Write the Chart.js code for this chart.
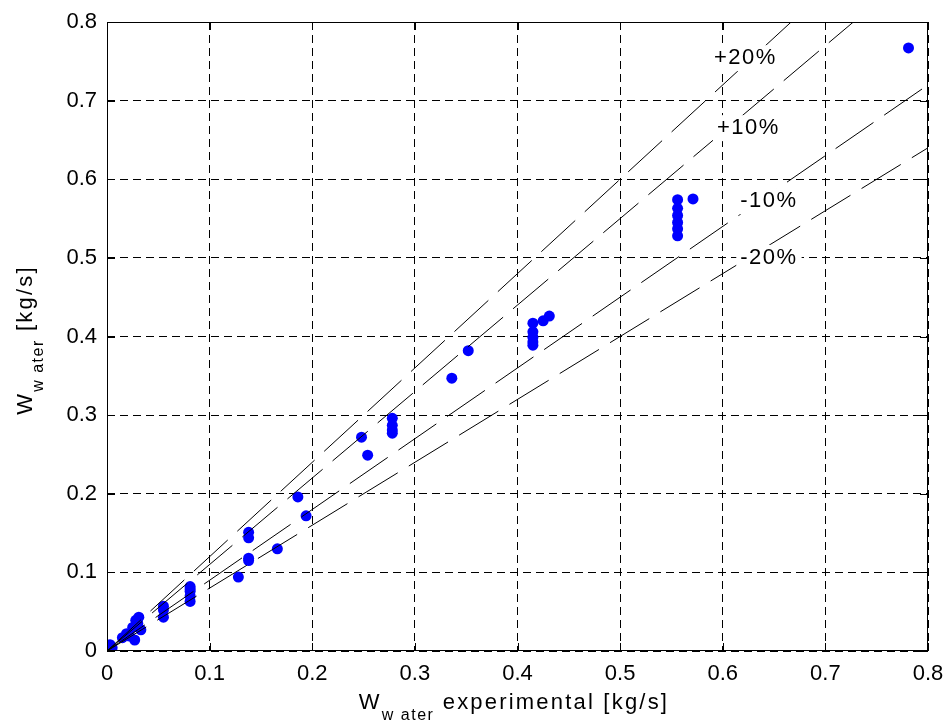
<!DOCTYPE html>
<html>
<head>
<meta charset="utf-8">
<script src="https://cdn.jsdelivr.net/npm/chart.js@4.4.0/dist/chart.umd.min.js"></script>
<style>
  html, body { margin: 0; padding: 0; background: #fff; }
  #wrap { width: 947px; height: 722px; }
</style>
</head>
<body>
<div id="wrap"><canvas id="myChart" width="947" height="722"></canvas></div>
<script>
// measured vs. calculated water flow [kg/s]
const wExp = [
  0.003, 0.005, 0.015, 0.019, 0.022, 0.025, 0.027, 0.028, 0.031, 0.033, 0.030,
  0.055, 0.055, 0.055,
  0.081, 0.081, 0.081, 0.081, 0.081,
  0.128, 0.138, 0.138, 0.138, 0.138, 0.166, 0.186, 0.194,
  0.248, 0.254, 0.278, 0.278, 0.278, 0.278,
  0.336, 0.352,
  0.415, 0.415, 0.415, 0.415, 0.415, 0.425, 0.431,
  0.556, 0.556, 0.556, 0.556, 0.556, 0.556, 0.571,
  0.781
];
const wCalc = [
  0.008, 0.004, 0.017, 0.022, 0.019, 0.030, 0.014, 0.039, 0.043, 0.027, 0.035,
  0.057, 0.052, 0.043,
  0.082, 0.079, 0.076, 0.070, 0.063,
  0.094, 0.151, 0.144, 0.118, 0.115, 0.130, 0.196, 0.172,
  0.272, 0.249, 0.296, 0.287, 0.281, 0.277,
  0.347, 0.382,
  0.417, 0.406, 0.399, 0.393, 0.389, 0.420, 0.426,
  0.574, 0.563, 0.554, 0.545, 0.537, 0.528, 0.575,
  0.767
];

// error bands around the diagonal
const bandFactors = [1.2, 1.1, 0.9, 0.8];
const bandLabels = ['+20%', '+10%', '-10%', '-20%'];
const axisMax = 0.8;

const FONT = '"Liberation Sans", Arial, Helvetica, sans-serif';

const points = wExp.map((x, i) => ({ x: x, y: wCalc[i] }));

const bandSets = bandFactors.map((f, i) => {
  const xEnd = Math.min(axisMax, axisMax / f);
  return {
    label: bandLabels[i],
    data: [{ x: 0, y: 0 }, { x: xEnd, y: xEnd * f }],
    showLine: true,
    borderColor: '#000',
    borderWidth: 1,
    borderDash: [46, 13],
    pointRadius: 0,
    order: 1
  };
});

// where the band labels sit (data coords)
const bandLabelAt = [[0.622, 0.754], [0.625, 0.665], [0.645, 0.572], [0.645, 0.500]];

const framePlugin = {
  id: 'frame',
  afterDatasetsDraw(chart) {
    const c = chart.ctx;
    const a = chart.chartArea;
    const xs = chart.scales.x, ys = chart.scales.y;
    c.save();

    // band labels on white boxes
    c.font = '22px ' + FONT;
    c.letterSpacing = '1.5px';
    c.textAlign = 'center';
    c.textBaseline = 'middle';
    bandLabels.forEach((t, i) => {
      const px = xs.getPixelForValue(bandLabelAt[i][0]);
      const py = ys.getPixelForValue(bandLabelAt[i][1]);
      const w = c.measureText(t).width;
      c.fillStyle = '#fff';
      c.fillRect(px - w / 2 - 4, py - 13, w + 8, 26);
      c.fillStyle = '#000';
      c.fillText(t, px, py);
    });

    // box + inward ticks
    c.strokeStyle = '#000';
    c.lineWidth = 1;
    c.setLineDash([]);
    c.strokeRect(a.left + 0.5, a.top + 0.5, a.right - a.left - 1, a.bottom - a.top - 1);
    c.beginPath();
    xs.ticks.forEach(t => {
      const p = Math.round(xs.getPixelForValue(t.value)) + 0.5;
      c.moveTo(p, a.bottom); c.lineTo(p, a.bottom - 8);
      c.moveTo(p, a.top); c.lineTo(p, a.top + 8);
    });
    ys.ticks.forEach(t => {
      const p = Math.round(ys.getPixelForValue(t.value)) + 0.5;
      c.moveTo(a.left, p); c.lineTo(a.left + 8, p);
      c.moveTo(a.right, p); c.lineTo(a.right - 8, p);
    });
    c.stroke();

    // axis titles with subscript
    const drawTitle = (main, sub, rest, cx, base) => {
      c.letterSpacing = '2.2px';
      c.font = '22px ' + FONT;
      const w1 = c.measureText(main).width;
      const w3 = c.measureText(rest).width;
      c.letterSpacing = '1.5px';
      c.font = '16px ' + FONT;
      const w2 = c.measureText(sub).width;
      let x = cx - (w1 + w2 + w3) / 2;
      c.textAlign = 'left';
      c.textBaseline = 'alphabetic';
      c.fillStyle = '#000';
      c.letterSpacing = '2.2px';
      c.font = '22px ' + FONT;
      c.fillText(main, x, base);
      x += w1;
      c.letterSpacing = '1.5px';
      c.font = '16px ' + FONT;
      c.fillText(sub, x, base + 11);
      x += w2;
      c.letterSpacing = '2.2px';
      c.font = '22px ' + FONT;
      c.fillText(rest, x, base);
    };
    drawTitle('W', 'w ater', ' experimental [kg/s]', 514, 709);
    c.translate(32, 340);
    c.rotate(-Math.PI / 2);
    drawTitle('W', 'w ater', ' [kg/s]', 0, 0);
    c.letterSpacing = '0px';
    c.restore();
  }
};

const ctx = document.getElementById('myChart');

new Chart(ctx, {
  type: 'scatter',
  data: {
    datasets: [{
      label: 'W water',
      data: points,
      backgroundColor: '#0000ff',
      borderWidth: 0,
      pointRadius: 5.5,
      order: 2
    }].concat(bandSets)
  },
  options: {
    responsive: false,
    animation: false,
    layout: { padding: { left: 0, top: 22, right: 19, bottom: 0 } },
    plugins: {
      legend: { display: false },
      tooltip: { enabled: false }
    },
    scales: {
      x: {
        type: 'linear',
        min: 0, max: axisMax,
        afterFit: s => { s.height = 71; s.paddingLeft = 0; s.paddingRight = 0; },
        ticks: {
          stepSize: 0.1,
          padding: 10,
          color: '#000',
          font: { family: FONT, size: 22 },
          callback: v => v === 0 ? '0' : v.toFixed(1)
        },
        grid: { color: '#000', lineWidth: 1, drawTicks: false },
        border: { display: false, dash: [8, 5] }
      },
      y: {
        type: 'linear',
        min: 0, max: axisMax,
        afterFit: s => { s.width = 107; s.paddingTop = 0; s.paddingBottom = 0; },
        ticks: {
          stepSize: 0.1,
          padding: 10,
          color: '#000',
          font: { family: FONT, size: 22 },
          callback: v => v === 0 ? '0' : v.toFixed(1)
        },
        grid: { color: '#000', lineWidth: 1, drawTicks: false },
        border: { display: false, dash: [8, 5] }
      }
    }
  },
  plugins: [framePlugin]
});
</script>
</body>
</html>
